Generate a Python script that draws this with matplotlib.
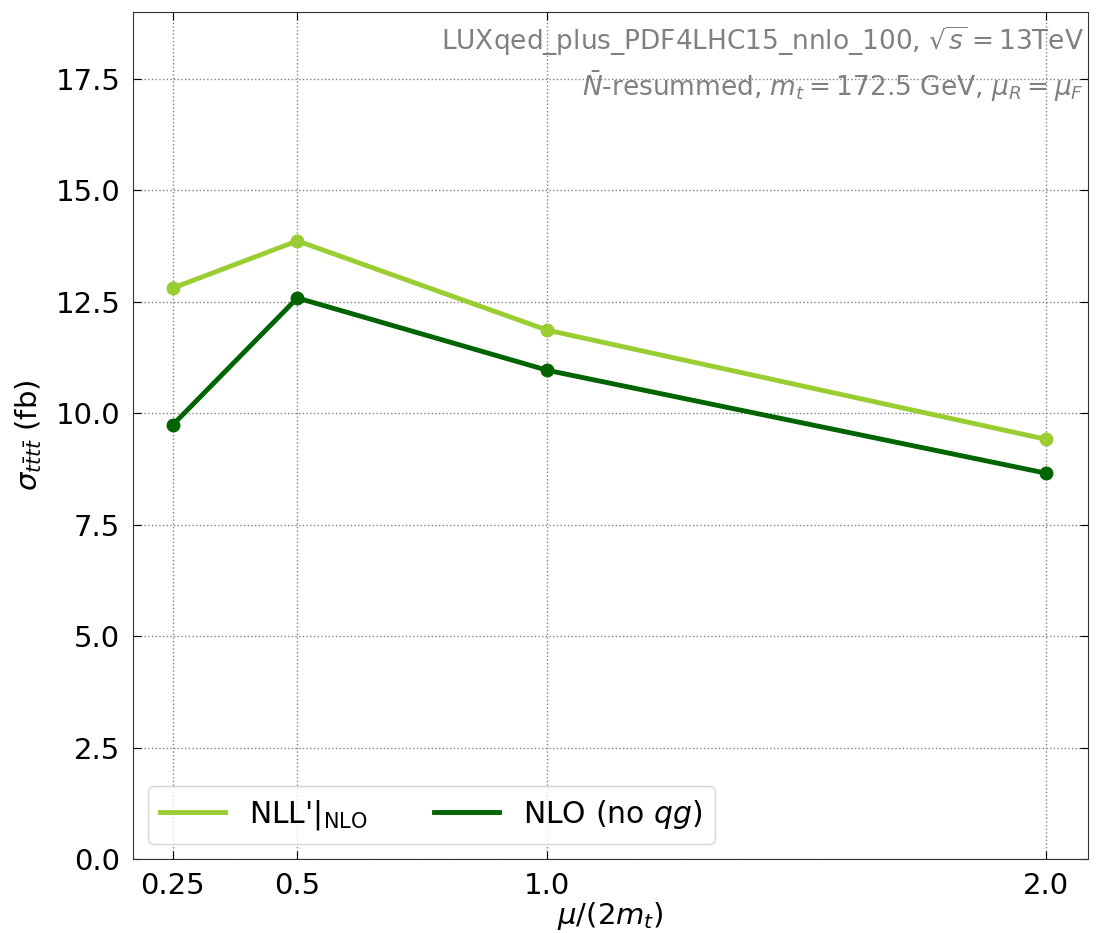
import matplotlib
matplotlib.use('Agg')
import matplotlib.pyplot as plt

# scale choices mu/(2 m_t) and cross sections in fb
mu_scale = [0.25, 0.5, 1.0, 2.0]
sigma_nll = [12.81, 13.87, 11.87, 9.42]
sigma_nlo = [9.74, 12.59, 10.97, 8.66]
xtick_labels = ['0.25', '0.5', '1.0', '2.0']

fig = plt.figure(figsize=(11.06, 9.33), dpi=100)
ax = fig.add_axes([0.120, 0.079, 0.864, 0.908])

# lines carry the legend labels, markers drawn on top without labels
ax.plot(mu_scale, sigma_nll, '-', color='yellowgreen', lw=3.5,
        label=r"NLL'$|_{\rm NLO}$")
ax.plot(mu_scale, sigma_nll, 'o', color='yellowgreen', ms=9)
ax.plot(mu_scale, sigma_nlo, '-', color='darkgreen', lw=3.5,
        label=r'NLO (no $qg$)')
ax.plot(mu_scale, sigma_nlo, 'o', color='darkgreen', ms=9)

ax.set_ylim(0, 19)
ax.set_xlim(0.17, 2.085)
ax.set_xticks(mu_scale)
ax.set_xticklabels(xtick_labels)
ax.set_yticks([0, 2.5, 5, 7.5, 10, 12.5, 15, 17.5])
ax.tick_params(direction='in', labelsize=21, top=True, right=True,
               length=6, pad=9)
ax.grid(True, ls=':', color='gray', lw=1)
for s in ax.spines.values():
    s.set_color('#333333')

ax.set_xlabel(r'$\mu/(2m_t)$', fontsize=21, labelpad=0)
ax.set_ylabel(r'$\sigma_{t\bar{t}t\bar{t}}$ (fb)', fontsize=21, labelpad=8)

ax.text(0.995, 0.985, r'LUXqed_plus_PDF4LHC15_nnlo_100, $\sqrt{s}=13$TeV',
        transform=ax.transAxes, ha='right', va='top', fontsize=19, color='gray')
ax.text(0.995, 0.933, r'$\bar{N}$-resummed, $m_t=172.5$ GeV, $\mu_R=\mu_F$',
        transform=ax.transAxes, ha='right', va='top', fontsize=19, color='gray')

ax.legend(loc='lower left', ncol=2, fontsize=21.5, handlelength=2.2,
          columnspacing=2.2)

fig.savefig('out.png')
